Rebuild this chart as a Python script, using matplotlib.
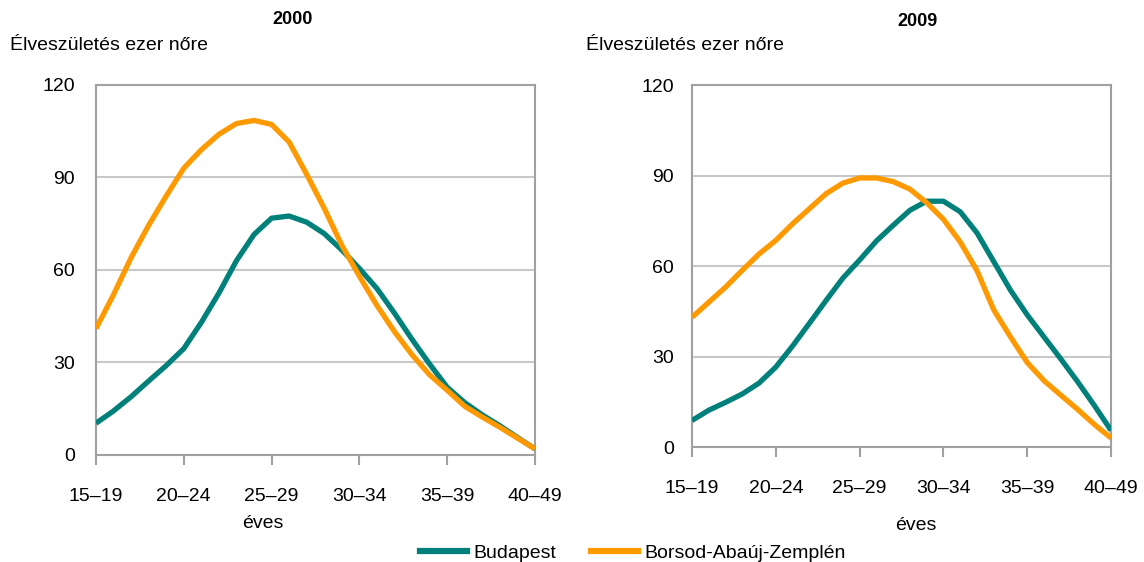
import numpy as np
import matplotlib
matplotlib.use("Agg")
import matplotlib.pyplot as plt
from matplotlib.lines import Line2D

plt.rcParams["font.family"] = ["Liberation Sans", "DejaVu Sans"]

# age positions (single years, 15..40), axis categories
ages = [15, 16, 17, 18, 19, 20, 21, 22, 23, 24, 25, 26, 27,
        28, 29, 30, 31, 32, 33, 34, 35, 36, 37, 38, 39, 40]
tick_ages = [15, 20, 25, 30, 35, 40]
tick_labels = ["15–19", "20–24", "25–29", "30–34", "35–39", "40–49"]

# 2000
bp_2000 = [10.3, 14.3, 18.9, 24.0, 29.0, 34.5, 43.0, 52.5, 63.0, 71.5, 76.8, 77.5, 75.5,
           71.8, 66.5, 60.5, 54.0, 46.0, 37.5, 29.5, 22.0, 17.0, 13.0, 9.5, 5.7, 2.0]
baz_2000 = [41.0, 52.0, 64.0, 74.5, 84.0, 93.0, 99.0, 104.0, 107.5, 108.5, 107.2, 101.5, 91.0,
            80.0, 68.0, 58.0, 48.5, 40.0, 32.5, 26.0, 21.0, 15.8, 12.3, 9.0, 5.5, 2.0]

# 2009
bp_2009 = [8.8, 12.2, 14.8, 17.6, 21.2, 26.5, 33.5, 41.0, 48.6, 56.0, 62.0, 68.3, 73.5,
           78.5, 81.5, 81.5, 78.0, 71.0, 61.5, 52.0, 43.8, 36.5, 29.2, 21.7, 13.8, 5.5]
baz_2009 = [43.0, 48.0, 53.0, 58.6, 64.0, 68.5, 74.0, 79.0, 84.0, 87.5, 89.2, 89.2, 88.0,
            85.5, 81.0, 75.5, 68.0, 58.5, 45.5, 36.5, 28.0, 22.0, 17.2, 12.5, 7.5, 3.0]

TEAL = "#00807A"
ORANGE = "#FF9900"
GRID = "#C8C8C8"
SPINE = "#A0A0A0"
FS = 14


def draw_panel(ax, bp, baz, ypad):
    ax.plot(ages, bp, color=TEAL, lw=3.8, solid_capstyle="butt", zorder=3)
    ax.plot(ages, baz, color=ORANGE, lw=3.8, solid_capstyle="butt", zorder=4)
    ax.set_xlim(15, 40)
    ax.set_ylim(0, 120)
    ax.set_yticks([0, 30, 60, 90, 120])
    ax.set_xticks(tick_ages)
    ax.set_xticklabels(tick_labels)
    ax.yaxis.grid(True, color=GRID, lw=1.5)
    ax.set_axisbelow(True)
    for s in ax.spines.values():
        s.set_color(SPINE)
        s.set_linewidth(1.5)
    ax.tick_params(axis="y", length=0, pad=ypad, labelsize=FS)
    ax.tick_params(axis="x", length=7, width=1.5, color=SPINE, pad=17, labelsize=FS)


fig = plt.figure(figsize=(11.44, 5.62), dpi=100)
ax1 = fig.add_axes([0.0839, 0.1904, 0.3837, 0.6584])
ax2 = fig.add_axes([0.6049, 0.2046, 0.3663, 0.6440])
draw_panel(ax1, bp_2000, baz_2000, 15)
draw_panel(ax2, bp_2009, baz_2009, 13)

fig.text(293 / 1144, 1 - 20 / 562, "2000", ha="center", va="center", fontsize=13, fontweight="bold")
fig.text(917 / 1144, 1 - 22 / 562, "2009", ha="center", va="center", fontsize=13, fontweight="bold")
fig.text(10 / 1144, 1 - 45 / 562, "Élveszületés ezer nőre", ha="left", va="center", fontsize=FS)
fig.text(586 / 1144, 1 - 45 / 562, "Élveszületés ezer nőre", ha="left", va="center", fontsize=FS)
fig.text(263 / 1144, 1 - 523 / 562, "éves", ha="center", va="center", fontsize=FS)
fig.text(916 / 1144, 1 - 525 / 562, "éves", ha="center", va="center", fontsize=FS)

handles = [Line2D([], [], color=TEAL, lw=4.5), Line2D([], [], color=ORANGE, lw=4.5)]
fig.legend(handles, ["Budapest", "Borsod-Abaúj-Zemplén"], loc="center left",
           bbox_to_anchor=(420 / 1144, 1 - 553 / 562), ncol=2, frameon=False,
           fontsize=FS, handlelength=2.4, handletextpad=0.35, columnspacing=1.8,
           borderaxespad=0, borderpad=0)

fig.savefig("out.png", dpi=100)
